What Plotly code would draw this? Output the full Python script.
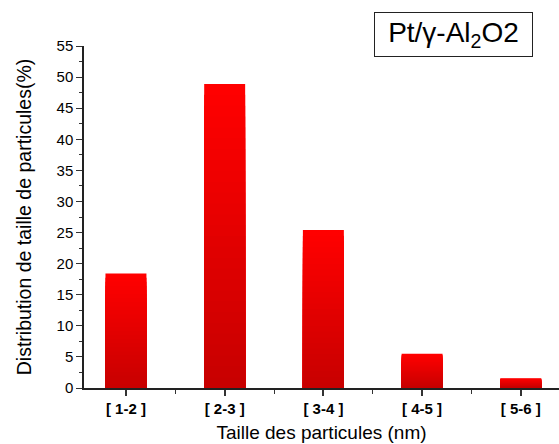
import plotly.graph_objects as go

# Particle size distribution for Pt/γ-Al2O3 catalyst
categories = ["[ 1-2 ]", "[ 2-3 ]", "[ 3-4 ]", "[ 4-5 ]", "[ 5-6 ]"]
distribution = [18.4, 48.9, 25.4, 5.5, 1.55]
y_ticks = list(range(0, 56, 5))

positions = list(range(len(categories)))

fig = go.Figure()

# Vertical red gradient: overlapping bars, each shorter layer darker toward the base
n_layers = 28
top_rgb = (255, 0, 0)
bottom_rgb = (200, 0, 0)
for k in range(n_layers):
    frac = 1 - k / n_layers
    t = k / (n_layers - 1)
    r = round(top_rgb[0] + (bottom_rgb[0] - top_rgb[0]) * t)
    fig.add_trace(go.Bar(
        x=positions,
        y=[v * frac for v in distribution],
        width=0.415,
        marker=dict(color=f"rgb({r},0,0)", line=dict(width=0)),
        showlegend=False,
        hoverinfo="skip" if k else None,
    ))

fig.update_layout(
    width=559,
    height=444,
    margin=dict(l=84, r=0, t=46, b=56),
    paper_bgcolor="white",
    plot_bgcolor="white",
    barmode="overlay",
    font=dict(family="Liberation Sans, Arial, sans-serif", color="black"),
    xaxis=dict(
        range=[-0.425, 4.387],
        tickvals=positions,
        ticktext=[f"<b>{c}</b>" for c in categories],
        tickfont=dict(size=15, color="black"),
        ticks="outside",
        ticklen=6,
        tickwidth=1.5,
        tickcolor="#333",
        minor=dict(tickvals=[0.5, 1.5, 2.5, 3.5], ticks="outside", ticklen=4,
                   tickwidth=1.2, tickcolor="#333"),
        showline=True,
        linecolor="#222",
        linewidth=1.5,
        showgrid=False,
        zeroline=False,
        title=dict(text="Taille des particules (nm)", font=dict(size=19), standoff=10),
    ),
    yaxis=dict(
        range=[0, 55],
        tickvals=y_ticks,
        tickfont=dict(size=15, color="black"),
        ticks="outside",
        ticklen=6,
        tickwidth=1.2,
        tickcolor="#333",
        minor=dict(dtick=2.5, ticks="outside", ticklen=3, tickwidth=1.2, tickcolor="#333"),
        showline=True,
        linecolor="#222",
        linewidth=1.5,
        showgrid=False,
        zeroline=False,
        title=dict(text="Distribution de taille de particules(%)", font=dict(size=19.5), standoff=20),
    ),
    annotations=[dict(
        text="Pt/γ-Al<sub>2</sub>O2",
        xref="paper", yref="paper",
        x=0.778, y=1.034,
        xanchor="center", yanchor="middle",
        showarrow=False,
        font=dict(size=28, color="black"),
        bordercolor="#222",
        borderwidth=1,
        borderpad=0,
        width=157,
        height=43,
        bgcolor="white",
    )],
)

fig.write_html("out.html")
